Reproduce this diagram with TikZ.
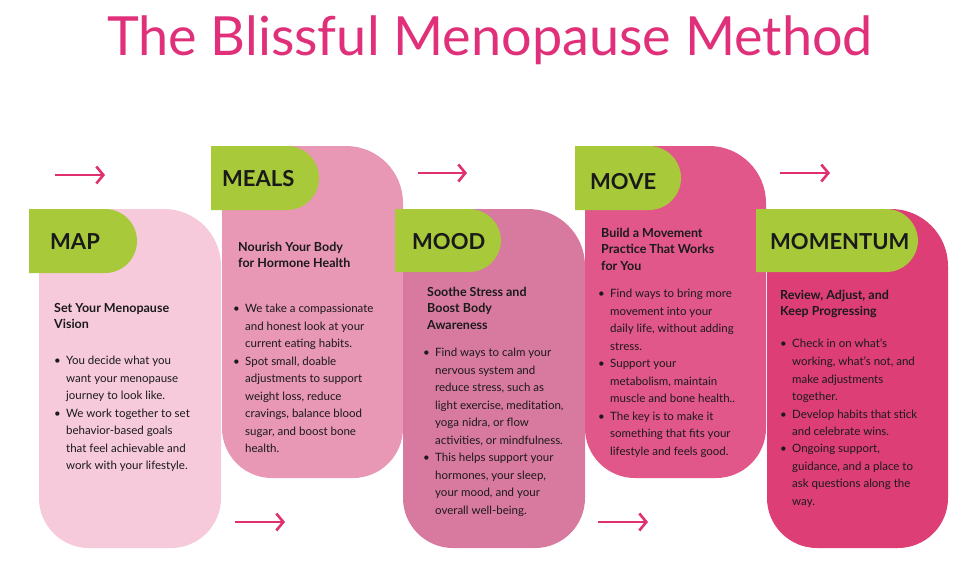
\documentclass[tikz,border=0pt]{standalone}
\usepackage{fontspec}
\setmainfont{Lato}
\usetikzlibrary{arrows.meta}
\definecolor{cA}{HTML}{F6CADB}
\definecolor{cB}{HTML}{E897B4}
\definecolor{cC}{HTML}{D87A9F}
\definecolor{cD}{HTML}{E2578A}
\definecolor{cE}{HTML}{DD3E75}
\definecolor{grn}{HTML}{A7C93A}
\definecolor{ttl}{HTML}{E0307A}
\definecolor{arr}{HTML}{E0306F}
\definecolor{txt}{HTML}{1A1A1A}
\newcommand{\mycard}[5]{\fill[#5] (#1,#2) [rounded corners=57pt] -- (#3,#2) [rounded corners=50pt] -- (#3,#4) -- (#1,#4) [sharp corners] -- cycle;}
\newcommand{\mytab}[4]{\fill[grn] (#1,#2) [rounded corners=32pt] -- (#3,#2) -- (#3,#4) [sharp corners] -- (#1,#4) -- cycle;}
\newcommand{\bl}{\makebox[12pt][l]{•}}
\newcommand{\ct}{\hspace*{12pt}}
\begin{document}
\begin{tikzpicture}[x=1pt,y=-1pt,
  lab/.style={anchor=base west,inner sep=0,font=\fontsize{22}{22}\selectfont\bfseries,text=txt},
  head/.style={anchor=north west,inner sep=0,align=left,font=\fontsize{12.5}{16.5}\selectfont\bfseries,text=txt},
  body/.style={anchor=north west,inner sep=0,align=left,font=\fontsize{11.5}{17.5}\selectfont,text=txt},
  ar/.style={arr,line width=2.6pt,-{Straight Barb[length=7pt,width=17pt,line width=2.6pt]}}]
\useasboundingbox (0,0) rectangle (980,568);
\fill[white] (0,0) rectangle (980,568);
\node[anchor=base,inner sep=0,text=ttl,font=\fontsize{54}{54}\selectfont] (title) at (490,55) {The Blissful Menopause Method};
% cards
\mycard{39}{209}{221}{548}{cA}
\mycard{222}{146}{403}{478}{cB}
\mycard{403}{209}{585}{548}{cC}
\mycard{585}{146}{766}{478}{cD}
\mycard{767}{209}{948}{548}{cE}
% tabs
\mytab{29}{209}{137}{273}
\mytab{211}{146}{319}{210}
\mytab{395}{209}{501}{272}
\mytab{575}{146}{681}{210}
\mytab{756}{209}{918}{272}
\node[lab] (l1) at (50,249) {MAP};
\node[lab] (l2) at (222,186) {MEALS};
\node[lab] (l3) at (412,249) {MOOD};
\node[lab] (l4) at (590,189) {MOVE};
\node[lab] (l5) at (770,249) {MOMENTUM};
% arrows
\coordinate (a1s) at (55,175); \coordinate (a1e) at (105,175);
\coordinate (a2s) at (418,173); \coordinate (a2e) at (467,173);
\coordinate (a3s) at (780,173); \coordinate (a3e) at (830,173);
\coordinate (a4s) at (235,522); \coordinate (a4e) at (285,522);
\coordinate (a5s) at (598,522); \coordinate (a5e) at (648,522);
\draw[ar] (a1s) -- (a1e);
\draw[ar] (a2s) -- (a2e);
\draw[ar] (a3s) -- (a3e);
\draw[ar] (a4s) -- (a4e);
\draw[ar] (a5s) -- (a5e);
% MAP
\node[head] (h1) at (54,303) {Set Your Menopause\\Vision};
\node[body] (b1) at (54,356) {\bl You decide what you\\\ct want your menopause\\\ct journey to look like.\\\bl We work together to set\\\ct behavior-based goals\\\ct that feel achievable and\\\ct work with your lifestyle.};
% MEALS
\node[head] (h2) at (238,242) {Nourish Your Body\\for Hormone Health};
\node[body] (b2) at (233,304) {\bl We take a compassionate\\\ct and honest look at your\\\ct current eating habits.\\\bl Spot small, doable\\\ct adjustments to support\\\ct weight loss, reduce\\\ct cravings, balance blood\\\ct sugar, and boost bone\\\ct health.};
% MOOD
\node[head] (h3) at (427,287) {Soothe Stress and\\Boost Body\\Awareness};
\node[body] (b3) at (423,348) {\bl Find ways to calm your\\\ct nervous system and\\\ct reduce stress, such as\\\ct light exercise, meditation,\\\ct yoga nidra, or flow\\\ct activities, or mindfulness.\\\bl This helps support your\\\ct hormones, your sleep,\\\ct your mood, and your\\\ct overall well-being.};
% MOVE
\node[head] (h4) at (601,228) {Build a Movement\\Practice That Works\\for You};
\node[body] (b4) at (598,289) {\bl Find ways to bring more\\\ct movement into your\\\ct daily life, without adding\\\ct stress.\\\bl Support your\\\ct metabolism, maintain\\\ct muscle and bone health..\\\bl The key is to make it\\\ct something that fits your\\\ct lifestyle and feels good.};
% MOMENTUM
\node[head] (h5) at (780,290) {Review, Adjust, and\\Keep Progressing};
\node[body] (b5) at (780,339) {\bl Check in on what's\\\ct working, what's not, and\\\ct make adjustments\\\ct together.\\\bl Develop habits that stick\\\ct and celebrate wins.\\\bl Ongoing support,\\\ct guidance, and a place to\\\ct ask questions along the\\\ct way.};
\end{tikzpicture}
\end{document}
